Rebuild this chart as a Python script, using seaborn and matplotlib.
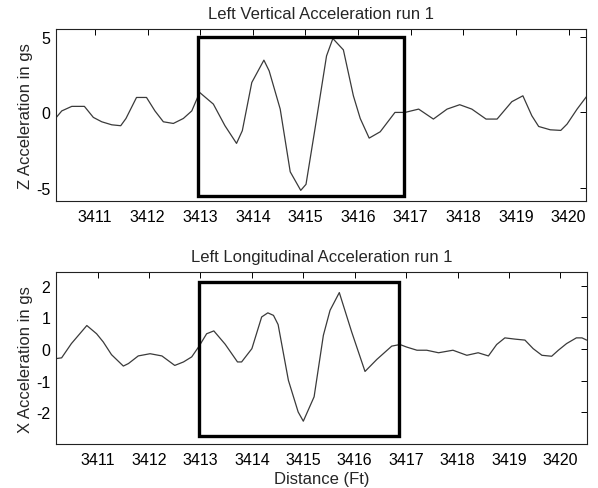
import numpy as np
import pandas as pd
import matplotlib
matplotlib.use("Agg")
import matplotlib.pyplot as plt
import seaborn as sns
from matplotlib.patches import Rectangle

# ---- data ----
z_dist = [3410.24, 3410.37, 3410.56, 3410.80, 3410.97, 3411.13, 3411.32, 3411.49, 3411.59,
          3411.79, 3411.98, 3412.14, 3412.30, 3412.49, 3412.68, 3412.84, 3412.99, 3413.25,
          3413.47, 3413.69, 3413.80, 3413.98, 3414.21, 3414.31, 3414.52, 3414.71, 3414.91,
          3415.01, 3415.18, 3415.40, 3415.52, 3415.72, 3415.91, 3416.04, 3416.21, 3416.42,
          3416.70, 3416.89, 3417.15, 3417.43, 3417.69, 3417.93, 3418.16, 3418.43, 3418.64,
          3418.92, 3419.13, 3419.30, 3419.43, 3419.65, 3419.85, 3419.97, 3420.16, 3420.35]
z_acc = [-0.44, 0.10, 0.40, 0.40, -0.33, -0.62, -0.82, -0.88, -0.40,
         0.99, 0.99, 0.10, -0.62, -0.73, -0.40, 0.10, 1.32, 0.55,
         -0.88, -2.05, -1.21, 1.98, 3.46, 2.75, 0.22, -3.93, -5.16,
         -4.76, -1.10, 3.74, 4.89, 4.14, 1.10, -0.40, -1.70, -1.28,
         0.00, 0.00, 0.22, -0.44, 0.22, 0.51, 0.22, -0.44, -0.44,
         0.71, 1.10, -0.22, -0.93, -1.15, -1.19, -0.77, 0.22, 1.10]

x_dist = [3410.17, 3410.30, 3410.49, 3410.79, 3410.98, 3411.11, 3411.27, 3411.50, 3411.60,
          3411.79, 3412.02, 3412.25, 3412.50, 3412.67, 3412.83, 3412.97, 3413.12, 3413.26,
          3413.48, 3413.72, 3413.80, 3414.00, 3414.19, 3414.31, 3414.42, 3414.51, 3414.71,
          3414.90, 3415.00, 3415.21, 3415.39, 3415.52, 3415.70, 3415.94, 3416.20, 3416.43,
          3416.72, 3416.88, 3417.01, 3417.21, 3417.40, 3417.63, 3417.91, 3418.18, 3418.40,
          3418.60, 3418.76, 3418.92, 3419.12, 3419.31, 3419.47, 3419.64, 3419.83, 3419.96,
          3420.12, 3420.31, 3420.42, 3420.51]
x_acc = [-0.31, -0.28, 0.17, 0.74, 0.48, 0.22, -0.18, -0.54, -0.46,
         -0.22, -0.15, -0.22, -0.52, -0.41, -0.25, 0.08, 0.48, 0.57,
         0.15, -0.41, -0.41, 0.01, 1.01, 1.14, 1.06, 0.77, -0.99,
         -1.99, -2.28, -1.51, 0.43, 1.22, 1.78, 0.54, -0.71, -0.33,
         0.09, 0.14, 0.06, -0.04, -0.04, -0.12, -0.04, -0.20, -0.12,
         -0.22, 0.14, 0.35, 0.31, 0.28, 0.01, -0.20, -0.23, -0.04,
         0.17, 0.35, 0.35, 0.28]

x_ticks = [3411, 3412, 3413, 3414, 3415, 3416, 3417, 3418, 3419, 3420]
z_ticks = [-5, 0, 5]
xa_ticks = [-2, -1, 0, 1, 2]

# highlight boxes (x0, x1, y0, y1)
z_box = [3412.96, 3416.87, -5.5, 5.0]
x_box = [3412.97, 3416.86, -2.74, 2.1]

titles = ["Left Vertical Acceleration run 1", "Left Longitudinal Acceleration run 1"]
ylabels = ["Z Acceleration in gs", "X Acceleration in gs"]
xlabel = "Distance (Ft)"

# ---- plot ----
sns.set_theme(style="white")
plt.rcParams['font.family'] = ['Liberation Sans', 'DejaVu Sans']
plt.rcParams['font.size'] = 11

fig = plt.figure(figsize=(5.98, 4.89), dpi=100)
ax1 = fig.add_axes([0.0936, 0.587, 0.8864, 0.3513])
ax2 = fig.add_axes([0.0936, 0.090, 0.8874, 0.3511])

df_z = pd.DataFrame({"dist": z_dist, "acc": z_acc})
df_x = pd.DataFrame({"dist": x_dist, "acc": x_acc})

specs = [
    (ax1, df_z, (3410.26, 3420.33), (-5.86, 5.51), z_ticks, z_box),
    (ax2, df_x, (3410.19, 3420.51), (-3.0, 2.42), xa_ticks, x_box),
]
for i, (ax, df, xl, yl, yt, box) in enumerate(specs):
    sns.lineplot(data=df, x="dist", y="acc", ax=ax, color="#3a3a3a",
                 linewidth=0.9, estimator=None, sort=False)
    ax.add_patch(Rectangle((box[0], box[2]), box[1] - box[0], box[3] - box[2],
                           fill=False, edgecolor="black", linewidth=2.4, zorder=5))
    ax.set_xlim(*xl)
    ax.set_ylim(*yl)
    ax.set_xticks(x_ticks)
    ax.set_xticklabels([str(t) for t in x_ticks])
    ax.set_yticks(yt)
    ax.set_yticklabels([str(t) for t in yt])
    ax.tick_params(direction="in", length=4, width=0.7, top=True, right=True,
                   labelsize=11.5, colors="black", pad=4)
    ax.tick_params(axis="x", pad=6)
    for s in ax.spines.values():
        s.set_color("#222222")
        s.set_linewidth(0.8)
    ax.set_title(titles[i], fontsize=12, pad=8)
    ax.set_ylabel(ylabels[i], fontsize=12, labelpad=2)
    ax.set_xlabel("")

ax2.set_xlabel(xlabel, fontsize=12, labelpad=3)

fig.savefig("out.png", dpi=100)
